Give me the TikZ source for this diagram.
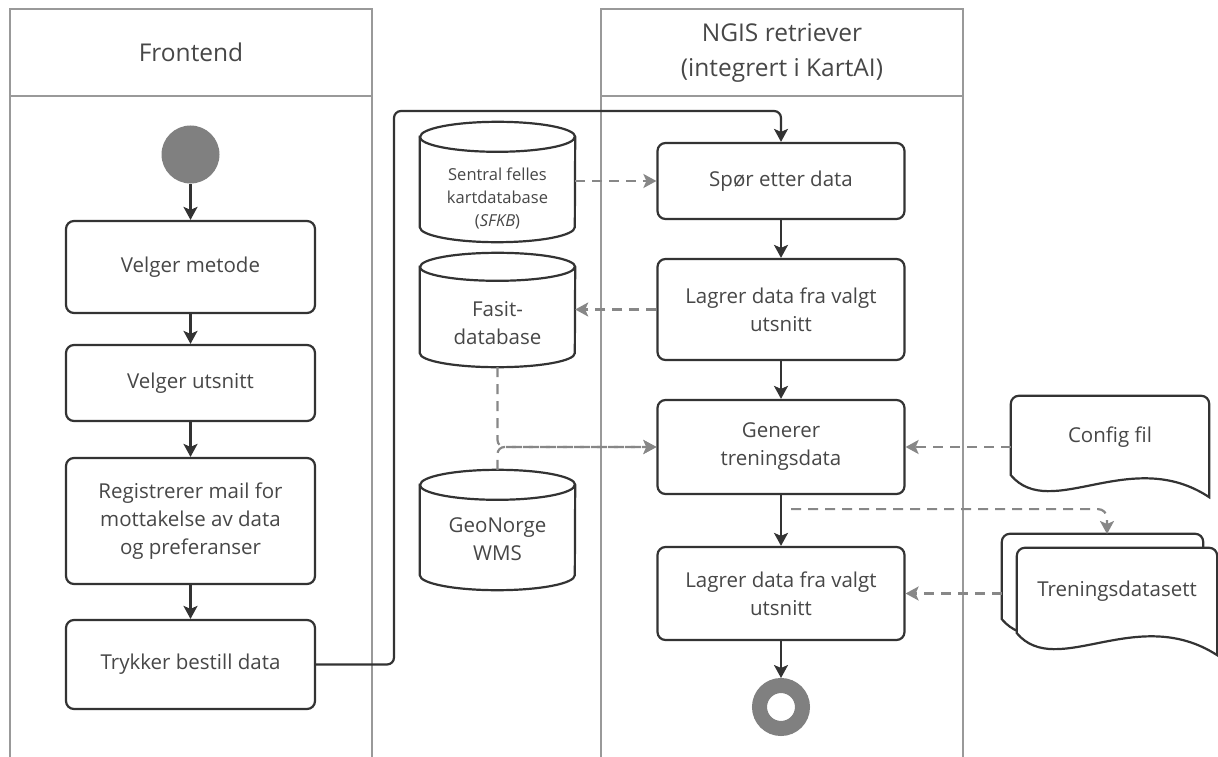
\documentclass[tikz,border=0pt]{standalone}
\usepackage{fontspec}
\setmainfont{Open Sans}
\usetikzlibrary{arrows.meta,calc}

\definecolor{ink}{HTML}{333333}
\definecolor{txt}{HTML}{474747}
\definecolor{lanec}{HTML}{999999}
\definecolor{dash}{HTML}{878787}
\definecolor{dot}{HTML}{808080}

\tikzset{
  lane/.style={draw=lanec, line width=2.4pt},
  lanehead/.style={text=txt, font=\fontsize{24.5}{35}\selectfont, align=center},
  action/.style={draw=ink, line width=2.2pt, rounded corners=8pt, fill=white,
    text=txt, font=\fontsize{20.5}{28}\selectfont, align=center, inner sep=0pt},
  outline/.style={draw=ink, line width=2.2pt, fill=white},
  region/.style={inner sep=0pt},
  bodytext/.style={text=txt, font=\fontsize{20.5}{28}\selectfont, align=center},
  smalltext/.style={text=txt, font=\fontsize{16.5}{23}\selectfont, align=center},
  flow/.style={draw=ink, line width=2.2pt, -{Stealth[length=13pt,width=14pt,inset=3pt]}},
  dflow/.style={draw=dash, line width=2.2pt, dash pattern=on 10pt off 7pt,
    -{Stealth[length=13pt,width=14pt,inset=3pt]}},
}

% cylinder outline around a region node (#1), cap half-height #2
\newcommand\cylout[2]{%
  \draw[outline] ($(#1.north west)+(0,-#2)$) -- ($(#1.south west)+(0,#2)$)
    arc[start angle=180,end angle=360,x radius=77.5,y radius=#2]
    -- ($(#1.north east)+(0,-#2)$)
    arc[start angle=0,end angle=180,x radius=77.5,y radius=#2] -- cycle;
  \draw[draw=ink, line width=2.2pt] ($(#1.north west)+(0,-#2)$)
    arc[start angle=180,end angle=360,x radius=77.5,y radius=#2];
}
% document outline with a wavy bottom around a region node (#1)
\newcommand\docout[1]{%
  \draw[outline] (#1.south east) -- ($(#1.north east)+(0,-8)$)
    arc[start angle=0,end angle=90,radius=8] -- ($(#1.north west)+(8,0)$)
    arc[start angle=90,end angle=180,radius=8] -- ($(#1.south west)+(0,22)$)
    .. controls ($(#1.south west)+(40,-25)$) and ($(#1.south west)+(120,52)$) .. (#1.south east)
    -- cycle;
}

\begin{document}
\begin{tikzpicture}[x=1pt,y=1pt]
\useasboundingbox (0,0) rectangle (1218,-757);

% swimlanes
\draw[lane] (10,-757) -- (10,-9) -- (372,-9) -- (372,-757);
\draw[lane] (10,-96) -- (372,-96);
\draw[lane] (601,-757) -- (601,-9) -- (963,-9) -- (963,-757);
\draw[lane] (601,-96) -- (963,-96);
\node[lanehead] (fronthead) at (191,-52) {Frontend};
\node[lanehead] (ngishead) at (782,-53) {NGIS retriever\\(integrert i KartAI)};

% frontend actions
\node[circle, fill=dot, minimum size=58pt, inner sep=0pt] (start) at (190.5,-154.5) {};
\node[action, minimum width=249pt, minimum height=92pt] (metode) at (190.5,-267) {Velger metode};
\node[action, minimum width=249pt, minimum height=76pt] (utsnitt) at (190.5,-383) {Velger utsnitt};
\node[action, minimum width=249pt, minimum height=126pt] (mail) at (190.5,-521)
  {Registrerer mail for\\mottakelse av data\\og preferanser};
\node[action, minimum width=249pt, minimum height=89pt] (bestill) at (190.5,-664.5) {Trykker bestill data};

% retriever actions
\node[action, minimum width=247pt, minimum height=76pt] (spor) at (781,-181) {Spør etter data};
\node[action, minimum width=247pt, minimum height=101pt] (lagre) at (781,-309.5) {Lagrer data fra valgt\\utsnitt};
\node[action, minimum width=247pt, minimum height=94pt] (gen) at (781,-447) {Generer\\treningsdata};
\node[action, minimum width=247pt, minimum height=93pt] (lagreto) at (781,-593.5) {Lagrer data fra valgt\\utsnitt};
\node[circle, draw=dot, line width=15pt, minimum size=43pt, inner sep=0pt] (slutt) at (781,-707) {};

% databases
\node[region, minimum width=155pt, minimum height=120pt] (sfkb) at (497.5,-182) {};
\cylout{sfkb}{15}
\node[smalltext] (sfkbtxt) at ($(sfkb.center)+(0,-16)$) {Sentral felles\\kartdatabase\\(\textit{SFKB})};
\node[region, minimum width=155pt, minimum height=114pt] (fasit) at (497.5,-310) {};
\cylout{fasit}{14}
\node[bodytext] (fasittxt) at ($(fasit.center)+(0,-13)$) {Fasit-\\database};
\node[region, minimum width=155pt, minimum height=120pt] (geo) at (497.5,-530) {};
\cylout{geo}{15}
\node[bodytext] (geotxt) at ($(geo.center)+(0,-9)$) {GeoNorge\\WMS};

% files
\node[region, minimum width=198pt, minimum height=101pt] (cfg) at (1110,-446.5) {};
\docout{cfg}
\node[bodytext] (cfgtxt) at ($(cfg.center)+(0,9)$) {Config fil};
\node[region, minimum width=201pt, minimum height=107pt] (tdb) at (1102.5,-587.5) {};
\docout{tdb}
\node[region, minimum width=200pt, minimum height=107pt] (tdf) at (1117,-601.5) {};
\docout{tdf}
\node[bodytext] (tdftxt) at ($(tdf.center)+(0,10)$) {Treningsdatasett};

% control flow
\draw[flow] (start) -- (metode);
\draw[flow] (metode) -- (utsnitt);
\draw[flow] (utsnitt) -- (mail);
\draw[flow] (mail) -- (bestill);
\coordinate (bend) at (394,-111);
\draw[flow, rounded corners=7pt] (bestill.east) -| (bend) -| (spor.north);
\draw[flow] (spor) -- (lagre);
\draw[flow] (lagre) -- (gen);
\draw[flow] (gen) -- (lagreto);
\draw[flow] (lagreto) -- (slutt);

% data flow
\draw[dflow] (sfkb.east |- spor.west) -- (spor.west);
\draw[dflow] (lagre.west) -- (lagre.west -| fasit.east);
\draw[dflow, rounded corners=7pt] (fasit.south) |- (gen.west);
\draw[dflow, rounded corners=7pt] (geo.north) |- (gen.west);
\draw[dflow] (cfg.west |- gen.east) -- (gen.east);
\coordinate (split) at ($(gen.south)+(10,-14)$);
\coordinate (tdsin) at (1107,-534);
\draw[dflow, rounded corners=9pt] (split) -| (tdsin);
\draw[dflow] (tdb.west |- lagreto.east) -- (lagreto.east);
\end{tikzpicture}
\end{document}
